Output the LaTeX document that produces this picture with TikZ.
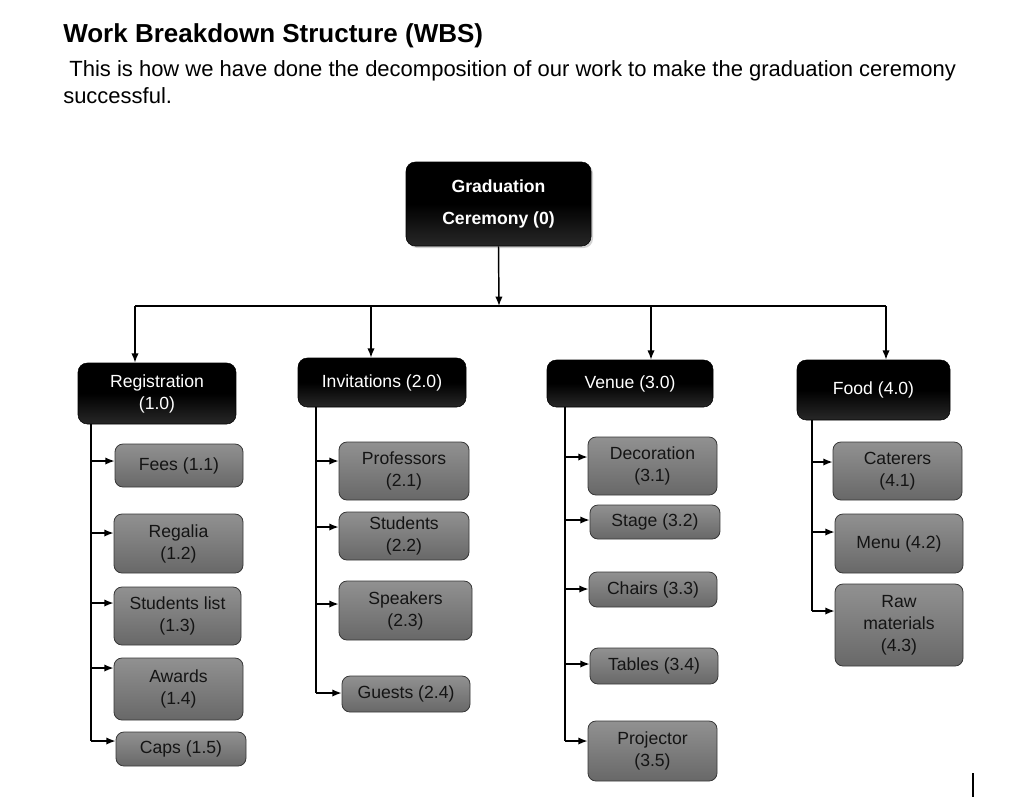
\documentclass[tikz,border=0pt]{standalone}
\usepackage{fontspec}
\setmainfont{Liberation Sans}
\usetikzlibrary{arrows.meta,shadows}
\definecolor{gtop}{RGB}{145,145,145}
\definecolor{gbot}{RGB}{104,104,104}
\definecolor{gline}{RGB}{55,55,55}
\definecolor{btop}{RGB}{0,0,0}
\definecolor{bbot}{RGB}{40,40,40}
\tikzset{
  blackbox/.style={draw=black, rounded corners=7pt, top color=btop, bottom color=bbot, middle color=black,
    text=white, align=center, inner sep=0pt, font=\fontsize{13.2}{16.5}\selectfont},
  graybox/.style={draw=gline, line width=0.6pt, rounded corners=6pt, top color=gtop, bottom color=gbot,
    text=black!92, align=center, inner sep=0pt, font=\fontsize{13.2}{16.5}\selectfont},
  conn/.style={line width=1.1pt, black},
  arr/.style={conn, -{Latex[length=7pt,width=5.5pt]}},
}
\newcommand\bx[7]{\node[#2, minimum width={(#5-#3)*0.75pt}, minimum height={(#6-#4)*0.75pt}] (#1) at ({(#3+#5)/2},{(#4+#6)/2}) {#7};}
\begin{document}
\begin{tikzpicture}[x=0.75pt,y=-0.75pt]
\useasboundingbox (0,0) rectangle (1028,797);
\fill[white] (0,0) rectangle (1028,797);
% heading
\node[anchor=base west, inner sep=0pt, font=\bfseries\fontsize{19.5}{23}\selectfont] (title) at (63,42) {Work Breakdown Structure (WBS)};
\node[anchor=base west, inner sep=0pt, font=\fontsize{16.5}{20}\selectfont] (sub1) at (63,76) {\ This is how we have done the decomposition of our work to make the graduation ceremony};
\node[anchor=base west, inner sep=0pt, font=\fontsize{16.5}{20}\selectfont] (sub2) at (63,103) {successful.};
% root
\node[blackbox, font=\bfseries\fontsize{13.2}{16.5}\selectfont, drop shadow={shadow xshift=1.5pt, shadow yshift=-1.5pt, opacity=0.35},
  minimum width={185*0.75pt}, minimum height={84*0.75pt}] (root) at (498.5,204) {Graduation\\[8pt]Ceremony (0)};
% level 1
\bx{reg}{blackbox}{78}{363}{236}{424}{Registration\\(1.0)}
\bx{inv}{blackbox}{298}{358}{466}{407}{Invitations (2.0)}
\bx{ven}{blackbox}{547}{360}{713}{407}{Venue (3.0)}
\bx{food}{blackbox}{797}{360}{950}{420}{Food (4.0)}
% level 2 - registration
\bx{n11}{graybox}{115}{444}{243}{487}{Fees (1.1)}
\bx{n12}{graybox}{114}{514}{243}{573}{Regalia\\(1.2)}
\bx{n13}{graybox}{114}{587}{241}{645}{Students list\\(1.3)}
\bx{n14}{graybox}{114}{658}{243}{720}{Awards\\(1.4)}
\bx{n15}{graybox}{116}{732}{246}{766}{Caps (1.5)}
% invitations
\bx{n21}{graybox}{339}{442}{469}{500}{Professors\\(2.1)}
\bx{n22}{graybox}{339}{512}{469}{560}{Students\\(2.2)}
\bx{n23}{graybox}{339}{581}{472}{640}{Speakers\\(2.3)}
\bx{n24}{graybox}{342}{676}{470}{712}{Guests (2.4)}
% venue
\bx{n31}{graybox}{588}{437}{717}{495}{Decoration\\(3.1)}
\bx{n32}{graybox}{590}{505}{720}{539}{Stage (3.2)}
\bx{n33}{graybox}{589}{572}{717}{607}{Chairs (3.3)}
\bx{n34}{graybox}{590}{648}{718}{684}{Tables (3.4)}
\bx{n35}{graybox}{588}{721}{717}{781}{Projector\\(3.5)}
% food
\bx{n41}{graybox}{833}{442}{962}{500}{Caterers\\(4.1)}
\bx{n42}{graybox}{835}{514}{963}{573}{Menu (4.2)}
\bx{n43}{graybox}{835}{584}{963}{666}{Raw\\materials\\(4.3)}
% bus
\coordinate (busL) at (135,306);
\coordinate (busR) at (886,306);
\coordinate (b2) at (371,306);
\coordinate (b3) at (651,306);
\coordinate (bm) at (499,306);
\draw[arr] (root.south) -- (bm);
\draw[conn, rounded corners=2pt] (busL) -- (busR);
\draw[arr] (busL) -- (busL |- reg.north);
\draw[arr] (b2) -- (b2 |- inv.north);
\draw[arr] (b3) -- (b3 |- ven.north);
\draw[arr] (busR) -- (busR |- food.north);
% registration spine
\coordinate (p11) at (91,461);
\coordinate (p12) at (91,533);
\coordinate (p13) at (91,603);
\coordinate (p14) at (91,668);
\coordinate (p15) at (91,741);
\draw[conn] (p11 |- reg.south) -- (p15);
\foreach \i in {11,12,13,14,15} \draw[arr] (p\i) -- (p\i -| n\i.west);
% invitations spine
\coordinate (p21) at (316,461);
\coordinate (p22) at (316,527);
\coordinate (p23) at (316,604);
\coordinate (p24) at (316,693);
\draw[conn] (p21 |- inv.south) -- (p24);
\foreach \i in {21,22,23,24} \draw[arr] (p\i) -- (p\i -| n\i.west);
% venue spine
\coordinate (p31) at (565,457);
\coordinate (p32) at (565,520);
\coordinate (p33) at (565,589);
\coordinate (p34) at (565,664);
\coordinate (p35) at (565,741);
\draw[conn] (p31 |- ven.south) -- (p35);
\foreach \i in {31,32,33,34,35} \draw[arr] (p\i) -- (p\i -| n\i.west);
% food spine
\coordinate (p41) at (812,462);
\coordinate (p42) at (812,532);
\coordinate (p43) at (812,611);
\draw[conn] (p41 |- food.south) -- (p43);
\foreach \i in {41,42,43} \draw[arr] (p\i) -- (p\i -| n\i.west);
% cursor mark
\draw[line width=1.6pt] (973,773) -- (973,797);
\end{tikzpicture}
\end{document}
